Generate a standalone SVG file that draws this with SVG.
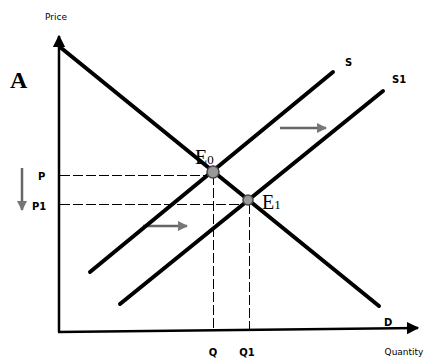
<svg xmlns="http://www.w3.org/2000/svg" width="439" height="362" viewBox="0 0 439 362">
<style>
.ax{stroke:#000;stroke-width:2.5;fill:none}
.ln{stroke:#000;stroke-width:4;fill:none;stroke-linecap:round}
.dash{stroke:#000;stroke-width:1;stroke-dasharray:10,3;fill:none;shape-rendering:crispEdges}
.sm{font-family:"DejaVu Sans",sans-serif;font-size:9px;fill:#000}
.lb{font-family:"DejaVu Sans",sans-serif;font-size:10px;font-weight:bold;fill:#000}
.ser{font-family:"Liberation Serif",serif;fill:#000}
.pt{fill:#999;stroke:#444;stroke-width:1.5}
.sh{stroke:#666;stroke-width:2.5;fill:none}
</style>
<defs>
<marker id="ah" viewBox="0 0 10 10" refX="9" refY="5" markerWidth="5" markerHeight="5" orient="auto" markerUnits="strokeWidth">
<path d="M0,0L10,5L0,10z" fill="#000"/>
</marker>
<marker id="gh" viewBox="0 0 10 10" refX="9" refY="5" markerWidth="4" markerHeight="4" orient="auto" markerUnits="strokeWidth">
<path d="M0,0L10,5L0,10z" fill="#777"/>
</marker>
</defs>
<rect width="439" height="362" fill="#fff"/>
<g id="axes">
<line class="ax" x1="59" y1="332" x2="59" y2="36" marker-end="url(#ah)"/>
<line class="ax" x1="58" y1="332" x2="418" y2="328" marker-end="url(#ah)"/>
<text class="sm" x="56" y="20" text-anchor="middle">Price</text>
<text class="sm" x="404" y="355" text-anchor="middle">Quantity</text>
<text class="ser" x="10" y="88" font-size="24" font-weight="bold">A</text>
</g>
<g id="connectors">
<line class="dash" x1="60" y1="175" x2="213" y2="175"/>
<line class="dash" x1="60" y1="204" x2="248" y2="204"/>
<line class="dash" x1="213" y1="175" x2="213" y2="331"/>
<line class="dash" x1="249" y1="204" x2="249" y2="331"/>
<line class="sh" x1="280" y1="128" x2="326" y2="128" marker-end="url(#gh)"/>
<line class="sh" x1="143" y1="226" x2="187" y2="226" marker-end="url(#gh)"/>
<line class="sh" x1="22" y1="168" x2="22" y2="210" marker-end="url(#gh)"/>
</g>
<g id="D">
<line class="ln" x1="60" y1="47" x2="379" y2="306"/>
<text class="lb" x="384" y="326">D</text>
</g>
<g id="S">
<line class="ln" x1="90" y1="272" x2="333" y2="72"/>
<text class="lb" x="345" y="66">S</text>
</g>
<g id="S1">
<line class="ln" x1="120" y1="304" x2="383" y2="91"/>
<text class="lb" x="392" y="83">S1</text>
</g>
<g id="E0">
<circle class="pt" cx="213" cy="172" r="6"/>
<text class="ser" x="195" y="164" font-size="20">E<tspan font-size="13">0</tspan></text>
</g>
<g id="E1">
<circle class="pt" cx="248" cy="200" r="5"/>
<text class="ser" x="262" y="209" font-size="20">E<tspan font-size="13">1</tspan></text>
</g>
<g id="labels">
<text class="lb" x="38" y="180">P</text>
<text class="lb" x="32" y="210">P1</text>
<text class="lb" x="213" y="356" text-anchor="middle">Q</text>
<text class="lb" x="247" y="356" text-anchor="middle">Q1</text>
</g>
</svg>
